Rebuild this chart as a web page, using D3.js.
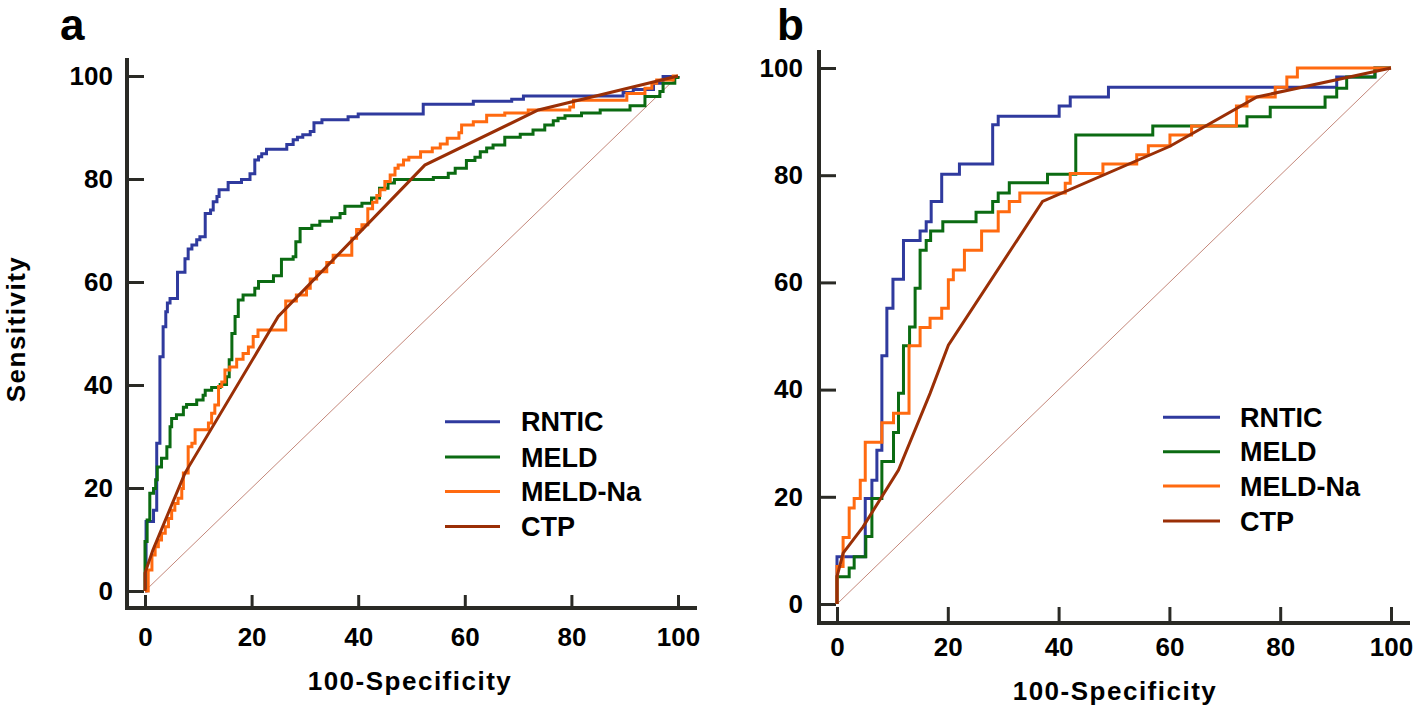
<!DOCTYPE html>
<html>
<head>
<meta charset="utf-8">
<script src="https://cdn.jsdelivr.net/npm/d3@7"></script>
<style>
  html, body { margin: 0; padding: 0; background: #fff; }
  svg { display: block; }
  text { font-family: "Liberation Sans", Arial, sans-serif; font-weight: bold; fill: #000; }
</style>
</head>
<body>
<svg id="chart" width="1418" height="709"></svg>
<script>
// ---------------- DATA ----------------
const seriesNames = ["RNTIC", "MELD", "MELD-Na", "CTP"];
const seriesColors = ["#2f3a9e", "#0b6b12", "#ff6a10", "#9a2f06"];
const xTicks = [0, 20, 40, 60, 80, 100];
const yTicks = [0, 20, 40, 60, 80, 100];
const xTitle = "100-Specificity";
const yTitle = "Sensitivity";
const panelLetters = ["a", "b"];

// Panel a — ROC points [100-Specificity, Sensitivity] (step curves: jump at x to y)
const rnticA = [[0,0],[0.2,13.5],[1.6,15.7],[2.2,28.7],[2.8,45.5],[3.4,51.3],[3.9,54.2],[4.2,55.9],[4.7,56.8],[6.1,61.9],[7.5,64.5],[8.1,66.4],[8.8,67.2],[9.7,68.2],[10.3,68.8],[11.3,73.3],[12.3,74],[12.8,75.6],[13.5,76.6],[13.9,77.9],[15.6,79.3],[18.1,79.9],[19.7,81],[20.6,83.7],[21.3,84.3],[21.9,84.9],[22.8,85.8],[26.6,86.7],[27.8,87.6],[28.6,88.1],[29.6,88.6],[31,89.2],[31.7,90.9],[33.2,91.5],[38.1,92.1],[40,92.6],[52.2,94.5],[61.6,95.1],[68.8,95.5],[71,96.1],[89.7,96.8],[91.6,97.4],[95.4,98.6],[97.2,99.9],[100,100]];
const meldA = [[0,0],[0,9.6],[0.4,13.8],[0.9,19],[1.6,19.9],[2.0,21.6],[2.3,24.1],[3.1,25.8],[4.1,28],[4.7,31.9],[5.0,33.5],[5.9,34.2],[7.2,35.7],[7.8,36.2],[9.7,37.1],[10.9,38],[11.3,39],[12.5,39.5],[14.1,40.1],[15.3,41.6],[15.8,44.9],[16.3,50],[16.9,53.3],[17.5,56.5],[18.4,57.5],[20.6,58.8],[21.3,60.1],[24.1,61.2],[25.6,64.4],[27.8,64.9],[28.3,67.8],[29.1,70.4],[31.3,71],[32.8,71.8],[35.0,72.5],[36.6,73.3],[37.5,74.7],[40.7,75.3],[42.5,76.3],[44.0,78.2],[45.6,79.2],[46.8,79.9],[54.1,80.3],[56.9,81.1],[58.2,82.1],[60.3,83.6],[61.9,84.2],[62.9,85.3],[64.1,86],[65.3,86.6],[67.5,88.1],[70.4,88.7],[72.8,89.5],[75,90.5],[76.6,91.3],[77.5,91.8],[78.8,92.3],[81.9,92.8],[85.4,93.4],[91,94.2],[93.8,96],[96.6,97],[97.2,98.6],[99.4,99.7],[100,100]];
const meldNaA = [[0,0],[0.6,4.1],[1.3,7],[1.9,8.6],[2.5,9.9],[3.1,11.2],[3.8,12.5],[4.4,14.1],[5.0,15.7],[5.6,17],[6.2,18],[6.9,19.9],[7.2,22.9],[8.1,28],[8.8,28.7],[9.4,31.3],[11.9,32.6],[12.5,34.5],[13.1,36.1],[13.8,39.7],[14.4,40.6],[15,42.9],[15.9,43.5],[17.2,45],[18.4,46.1],[19.4,47.4],[20.3,49.4],[21.2,50.7],[26.4,56.3],[28.4,57.5],[30.3,58.8],[31,60.6],[32.2,62],[34.1,63.8],[35.3,65.2],[38.8,68.5],[39.7,70.2],[40.7,71.1],[41.8,74.2],[42.7,75.5],[43.5,76.8],[44.1,77.9],[45,79.5],[46,80.8],[46.9,82.1],[47.5,82.7],[48.5,83.7],[49.5,84.2],[51.7,85.3],[53.9,86],[55.4,86.8],[56.7,87.9],[58.9,89],[59.4,90.5],[61.6,91.1],[64.1,92.4],[67.5,92.8],[71.9,93.4],[79.7,94],[80.4,95.3],[90.4,96.6],[93.8,97.6],[95.1,98.6],[96,99.2],[99.1,100],[100,100]];
const ctpA = [[0,0],[0,3.5],[1.5,8],[7.5,22.9],[25,53.3],[52.5,82.7],[73.8,93.4],[100,100]];

// Panel b
const rnticB = [[0,0],[0,8.8],[5.1,19.7],[6.3,23.1],[7.2,28.7],[8.1,46.3],[9.0,55.2],[10.1,60.6],[12.0,67.8],[15,69.6],[16.1,71.3],[17,75.1],[18.9,80.2],[22.1,82.1],[28.1,89.4],[29.1,91],[40.1,92.9],[42.1,94.6],[49,96.4],[90.2,98.3],[97.1,100],[100,100]];
const meldB = [[0,0],[0,5.1],[2.2,6.7],[3.1,8.8],[5.2,12.6],[6.3,19.7],[8.1,26.6],[10.2,32],[11.1,39.3],[12,48.2],[13.1,51.7],[14.1,58.9],[15,66],[16.1,67.8],[16.9,69.6],[19.1,71.3],[25.1,73.1],[28.1,75.1],[29.1,76.7],[31.1,78.6],[38,80.2],[43.1,87.5],[57,89.2],[74,90.9],[78.2,92.7],[88.1,94.6],[90.2,96.2],[92,98.3],[97.1,100],[100,100]];
const meldNaB = [[0,0],[0,7],[1.1,12.4],[2.2,17.9],[3.1,19.7],[4.2,23.1],[5.1,30.2],[8.1,33.8],[10.2,35.6],[13,48.2],[15,51.6],[16.8,53.3],[18.9,55.2],[20.1,60.5],[21,62.3],[23,66],[26.1,69.6],[29.1,73.2],[31.1,75.1],[33,76.7],[41.2,78.5],[42.1,80.3],[48,82.1],[54.1,83.8],[56.2,85.5],[60.1,87.5],[64,89.2],[72.1,92.9],[74,94.6],[79.1,96.4],[81.2,98.3],[83.1,100],[100,100]];
const ctpB = [[0,0],[0,5.1],[1.1,9.5],[4.7,14.4],[11.1,25],[16.8,39.3],[20.1,48.3],[37.1,75.1],[60.1,85.4],[75.8,94.6],[100,100]];

const diagonal = [[0,0],[100,100]];

// ---------------- DRAW ----------------
const svg = d3.select("#chart");
const axisColor = "#2a2a25";

const panels = [
  { letter: panelLetters[0], letterX: 60, letterY: 40,
    x: d3.scaleLinear().domain([0,100]).range([145, 678]),
    y: d3.scaleLinear().domain([0,100]).range([591, 76]),
    yAxisX: 127, yAxisTop: 58, xAxisY: 608, xAxisRight: 697,
    yTickLen: 17, xTickLen: 13, yPad: 14, xPad: 20,
    xTitlePos: [410, 690], yTitlePos: [25, 329],
    legendX: [445, 500], legendTextX: 521, legendY: [421.7, 457, 491.5, 526.5],
    series: [rnticA, meldA, meldNaA, ctpA] },
  { letter: panelLetters[1], letterX: 777, letterY: 40,
    x: d3.scaleLinear().domain([0,100]).range([837, 1391]),
    y: d3.scaleLinear().domain([0,100]).range([604, 68]),
    yAxisX: 819, yAxisTop: 50, xAxisY: 623, xAxisRight: 1410,
    yTickLen: 17, xTickLen: 16, yPad: 16, xPad: 15,
    xTitlePos: [1115, 700], yTitlePos: null,
    legendX: [1163, 1220], legendTextX: 1240, legendY: [417.3, 451.7, 486, 521],
    series: [rnticB, meldB, meldNaB, ctpB] }
];

panels.forEach(p => {
  const g = svg.append("g");

  // Y axis ticks & labels
  const yAxis = d3.axisLeft(p.y).tickValues(yTicks).tickSizeInner(-p.yTickLen).tickSizeOuter(0).tickPadding(p.yPad);
  const gy = g.append("g").attr("transform", `translate(${p.yAxisX},0)`).call(yAxis);
  gy.select(".domain").remove();
  gy.selectAll(".tick line").attr("stroke", axisColor).attr("stroke-width", 3);
  gy.selectAll(".tick text").attr("font-size", 26).attr("font-family", "Liberation Sans, Arial, sans-serif").attr("font-weight", "bold").attr("fill", "#000");

  // X axis ticks & labels
  const xAxis = d3.axisBottom(p.x).tickValues(xTicks).tickSizeInner(-p.xTickLen).tickSizeOuter(0).tickPadding(p.xPad);
  const gx = g.append("g").attr("transform", `translate(0,${p.xAxisY})`).call(xAxis);
  gx.select(".domain").remove();
  gx.selectAll(".tick line").attr("stroke", axisColor).attr("stroke-width", 3);
  gx.selectAll(".tick text").attr("font-size", 26).attr("font-family", "Liberation Sans, Arial, sans-serif").attr("font-weight", "bold").attr("fill", "#000");

  // Axis lines
  g.append("line").attr("x1", p.yAxisX).attr("x2", p.yAxisX).attr("y1", p.yAxisTop).attr("y2", p.xAxisY + 2)
    .attr("stroke", axisColor).attr("stroke-width", 4);
  g.append("line").attr("x1", p.yAxisX - 2).attr("x2", p.xAxisRight).attr("y1", p.xAxisY).attr("y2", p.xAxisY)
    .attr("stroke", axisColor).attr("stroke-width", 4);

  // Diagonal reference
  const lin = d3.line().x(d => p.x(d[0])).y(d => p.y(d[1]));
  g.append("path").attr("d", lin(diagonal)).attr("fill", "none").attr("stroke", "#c4877a").attr("stroke-width", 1);

  // Curves
  const step = d3.line().x(d => p.x(d[0])).y(d => p.y(d[1])).curve(d3.curveStepAfter);
  p.series.forEach((s, i) => {
    g.append("path")
      .attr("d", i === 3 ? lin(s) : step(s))
      .attr("fill", "none")
      .attr("stroke", seriesColors[i])
      .attr("stroke-width", 3)
      .attr("stroke-linejoin", "miter");
  });

  // Legend
  seriesNames.forEach((name, i) => {
    g.append("line").attr("x1", p.legendX[0]).attr("x2", p.legendX[1])
      .attr("y1", p.legendY[i]).attr("y2", p.legendY[i])
      .attr("stroke", seriesColors[i]).attr("stroke-width", 3);
    g.append("text").attr("x", p.legendTextX).attr("y", p.legendY[i]).attr("dy", "0.36em")
      .attr("font-size", 27).text(name);
  });

  // Titles
  g.append("text").attr("x", p.xTitlePos[0]).attr("y", p.xTitlePos[1]).attr("text-anchor", "middle")
    .attr("font-size", 26).attr("letter-spacing", 1.5).text(xTitle);
  if (p.yTitlePos) {
    g.append("text").attr("transform", `translate(${p.yTitlePos[0]},${p.yTitlePos[1]}) rotate(-90)`)
      .attr("text-anchor", "middle").attr("font-size", 26).attr("letter-spacing", 1.5).text(yTitle);
  }

  // Panel letter
  g.append("text").attr("x", p.letterX).attr("y", p.letterY).attr("font-size", 44).text(p.letter);
});
</script>
</body>
</html>
